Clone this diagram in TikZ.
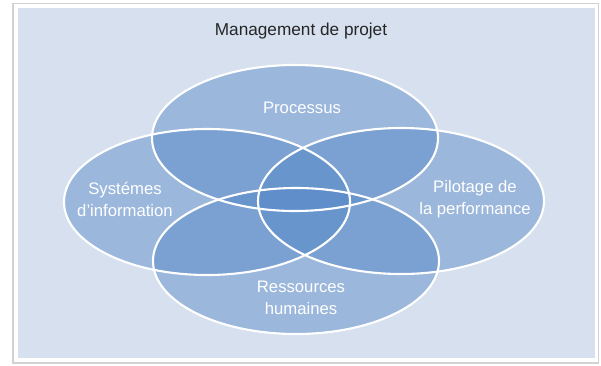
\documentclass[tikz,border=0pt]{standalone}
\usepackage{fontspec}
\setmainfont{Liberation Sans}
\definecolor{bgblue}{HTML}{D6E0EF}
\definecolor{ellblue}{HTML}{5587C7}
\tikzset{
  ell/.style={fill=ellblue, fill opacity=0.45},
  rim/.style={draw=white, line width=1.2pt},
  lbl/.style={text=white, font=\fontsize{9.5}{12.5}\selectfont, align=center},
}
\begin{document}
\begin{tikzpicture}[x=0.02cm, y=-0.02cm]
\useasboundingbox (0,0) rectangle (601,365);
\fill[gray!35] (12,3) rectangle (599,364);
\fill[white] (14,4) rectangle (598,362);
\fill[bgblue] (18,8) rectangle (595,358);
\node[font=\fontsize{9.8}{12}\selectfont, text=black!85] (title) at (301,31) {Management de projet};

\path (295,138) coordinate (proc)
      (207,202) coordinate (sys)
      (401,201) coordinate (pil)
      (296,261) coordinate (rh);

\foreach \c in {proc,sys,pil,rh}
  \fill[ell] (\c) ellipse [x radius=143, y radius=73];
\foreach \c in {proc,sys,pil,rh}
  \draw[rim] (\c) ellipse [x radius=143, y radius=73];

\node[lbl] (proctxt) at (302,108) {Processus};
\node[lbl] (systxt) at (125,199) {Systémes\\d’information};
\node[lbl] (piltxt) at (475,199) {Pilotage de\\la performance};
\node[lbl] (rhtxt) at (301,298) {Ressources\\humaines};
\end{tikzpicture}
\end{document}
